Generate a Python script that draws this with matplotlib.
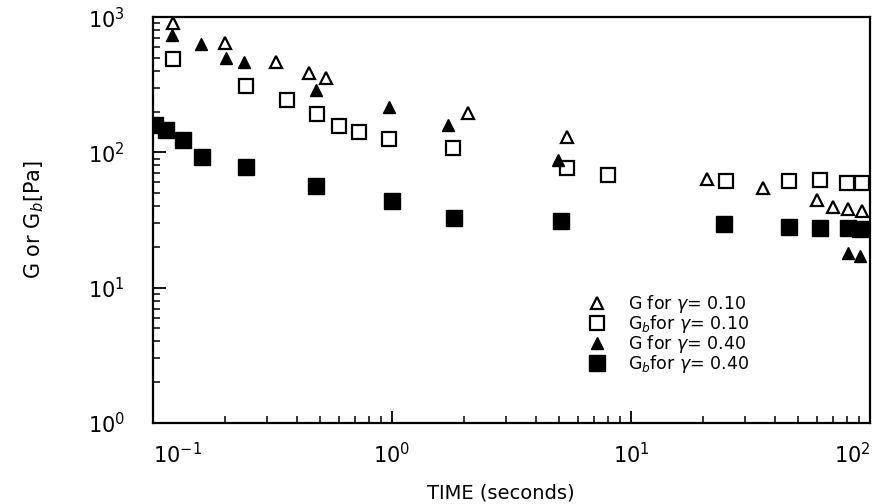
import matplotlib.pyplot as plt
import matplotlib as mpl
import numpy as np

# G for gamma = 0.10 (open triangles)
t_g010 = [0.121, 0.200, 0.327, 0.450, 0.529, 2.08, 5.40, 20.8, 35.7, 60.0, 70.0, 80.9, 92.6]
g_g010 = [903, 642, 465, 385, 354, 195, 130, 63.5, 54.5, 44.4, 39.4, 38.1, 36.8]

# Gb for gamma = 0.10 (open squares)
t_gb010 = [0.121, 0.245, 0.364, 0.486, 0.600, 0.728, 0.971, 1.80, 5.40, 8.02, 25.0, 45.8, 61.8, 80.2, 92.6]
g_gb010 = [489, 309, 244, 192, 156, 141, 125, 108, 76.6, 67.9, 61.4, 61.4, 62, 59.3, 59.3]

# G for gamma = 0.40 (filled triangles)
t_g040 = [0.120, 0.159, 0.202, 0.240, 0.481, 0.971, 1.71, 4.95, 80.9, 90.8]
g_g040 = [736, 632, 498, 465, 289, 216, 159, 87.7, 18.0, 17.1]

# Gb for gamma = 0.40 (filled squares)
t_gb040 = [0.102, 0.114, 0.134, 0.160, 0.245, 0.481, 0.996, 1.82, 5.09, 24.5, 45.8, 61.8, 80.9, 90.8]
g_gb040 = [159, 146, 123, 92.3, 77.8, 56.4, 43.7, 32.7, 31.0, 29.5, 28.1, 27.5, 27.5, 27.0]

labels = [r"G for $\gamma$= 0.10", r"G$_b$for $\gamma$= 0.10",
          r"G for $\gamma$= 0.40", r"G$_b$for $\gamma$= 0.40"]

xticks = [0.1, 1, 10, 100]
xtick_labels = [r"$10^{-1}$", r"$10^{0}$", r"$10^{1}$", r"$10^{2}$"]

plt.rcParams['font.family'] = ['DejaVu Sans']
plt.rcParams['mathtext.fontset'] = 'dejavusans'

fig = plt.figure(figsize=(8.73, 5.04), dpi=100)
ax = fig.add_axes([0.175, 0.161, 0.822, 0.805])

ax.plot(t_g010, g_g010, '^', ms=9, mfc='white', mec='black', mew=1.6, ls='none', label=labels[0])
ax.plot(t_gb010, g_gb010, 's', ms=10, mfc='white', mec='black', mew=1.6, ls='none', label=labels[1])
ax.plot(t_g040, g_g040, '^', ms=9, mfc='black', mec='black', ls='none', label=labels[2])
ax.plot(t_gb040, g_gb040, 's', ms=11, mfc='black', mec='black', ls='none', label=labels[3])

ax.set_xscale('log')
ax.set_yscale('log')
ax.set_xticks(xticks)
ax.set_xticklabels(xtick_labels)
ax.set_xlim(0.1, 100)
ax.set_ylim(1, 1000)

for s in ax.spines.values():
    s.set_linewidth(1.6)

ax.tick_params(which='both', direction='in', top=False, right=False)
ax.tick_params(which='major', length=9, width=1.3, labelsize=15)
ax.tick_params(which='minor', length=5, width=1.1)
ax.tick_params(axis='x', which='major', pad=14)
ax.tick_params(axis='y', which='major', pad=20)
ax.xaxis.set_minor_formatter(mpl.ticker.NullFormatter())
ax.yaxis.set_minor_formatter(mpl.ticker.NullFormatter())
ax.get_xticklabels()[-1].set_ha('right')
ax.get_xticklabels()[0].set_ha('left')

ax.set_xlabel("TIME (seconds)", fontsize=14, labelpad=8)
ax.set_ylabel(r"G or G$_b$[Pa]", fontsize=15, labelpad=30)
ax.xaxis.set_label_coords(0.485, -0.15)

ax.legend(loc='upper left', bbox_to_anchor=(0.578, 0.35), frameon=False,
          fontsize=12.5, labelspacing=-0.12, handletextpad=0.8, borderpad=0.2)

fig.savefig("out.png", dpi=100)
